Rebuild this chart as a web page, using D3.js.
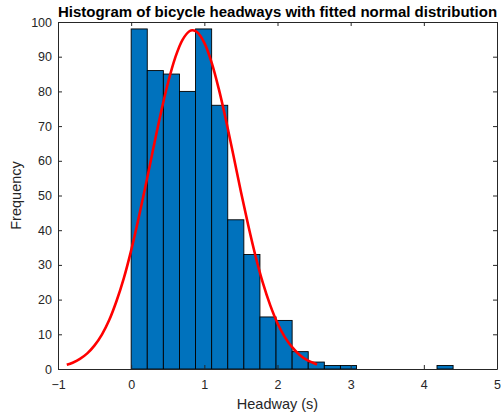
<!DOCTYPE html>
<html>
<head>
<meta charset="utf-8">
<script src="https://cdn.jsdelivr.net/npm/d3@7"></script>
<style>
  html, body { margin: 0; padding: 0; background: #fff; }
  svg { display: block; font-family: "Liberation Sans", Arial, Helvetica, sans-serif; }
</style>
</head>
<body>
<svg id="chart" width="501" height="419"></svg>
<script>
// ---- data ----
const titleText = "Histogram of bicycle headways with fitted normal distribution";
const xLabelText = "Headway (s)";
const yLabelText = "Frequency";

const binLeft  = [0, 0.22, 0.44, 0.66, 0.88, 1.10, 1.32, 1.54, 1.76, 1.98, 2.20, 2.42, 2.64, 2.86, 3.08, 3.30, 3.52, 3.74, 3.96, 4.18];
const binRight = [0.22, 0.44, 0.66, 0.88, 1.10, 1.32, 1.54, 1.76, 1.98, 2.20, 2.42, 2.64, 2.86, 3.08, 3.30, 3.52, 3.74, 3.96, 4.18, 4.40];
const binCount = [98, 86, 85, 80, 98, 76, 43, 33, 15, 14, 5, 2, 1, 1, 0, 0, 0, 0, 0, 1];

const curveX = [-0.88, -0.8, -0.7, -0.6, -0.5, -0.4, -0.3, -0.2, -0.1, 0.0, 0.1, 0.2, 0.3, 0.4, 0.5, 0.6, 0.7, 0.8, 0.84, 0.9, 1.0, 1.1, 1.2, 1.3, 1.4, 1.5, 1.6, 1.7, 1.8, 1.9, 2.0, 2.1, 2.2, 2.3, 2.4, 2.54];
const curveY = [1.2, 1.8, 2.9, 4.5, 6.8, 9.9, 14.1, 19.6, 26.2, 34.2, 43.3, 53.1, 63.3, 73.2, 82.2, 89.6, 94.8, 97.4, 97.6, 97.1, 94.0, 88.3, 80.5, 71.3, 61.3, 51.1, 41.4, 32.5, 24.8, 18.4, 13.2, 9.2, 6.3, 4.1, 2.6, 1.3];

const xTicks = [-1, 0, 1, 2, 3, 4, 5];
const yTicks = [0, 10, 20, 30, 40, 50, 60, 70, 80, 90, 100];
const xDomain = [-1, 5];
const yDomain = [0, 100];

// ---- layout ----
const plotL = 58, plotR = 497, plotT = 22, plotB = 369;
const axisColor = "#262626";

const svg = d3.select("#chart");
const x = d3.scaleLinear().domain(xDomain).range([plotL, plotR]);
const y = d3.scaleLinear().domain(yDomain).range([plotB, plotT]);

// bars
const bars = binLeft.map((l, i) => ({ l, r: binRight[i], c: binCount[i] })).filter(d => d.c > 0);
svg.append("g").selectAll("rect").data(bars).join("rect")
  .attr("x", d => x(d.l))
  .attr("y", d => y(d.c))
  .attr("width", d => x(d.r) - x(d.l))
  .attr("height", d => y(0) - y(d.c))
  .attr("fill", "#0072BD")
  .attr("stroke", "#000")
  .attr("stroke-width", 0.9);

// fitted curve
const pts = curveX.map((v, i) => [v, curveY[i]]);
svg.append("path")
  .datum(pts)
  .attr("fill", "none")
  .attr("stroke", "#ff0000")
  .attr("stroke-width", 2.6)
  .attr("stroke-linejoin", "round")
  .attr("stroke-linecap", "butt")
  .attr("d", d3.line().x(d => x(d[0])).y(d => y(d[1])).curve(d3.curveCatmullRom));

// axes
function styleAxis(g) {
  g.selectAll("path.domain").attr("stroke", axisColor).attr("stroke-width", 1);
  g.selectAll(".tick line").attr("stroke", axisColor).attr("stroke-width", 1);
  g.selectAll(".tick text").attr("fill", axisColor).style("font-size", "12.5px")
    .style("font-family", "'Liberation Sans', Arial, Helvetica, sans-serif");
}
svg.append("g").attr("transform", `translate(0,${plotB})`)
  .call(d3.axisBottom(x).tickValues(xTicks).tickFormat(d3.format("d")).tickSizeInner(-4).tickSizeOuter(0).tickPadding(11))
  .call(styleAxis);
svg.append("g").attr("transform", `translate(0,${plotT})`)
  .call(d3.axisTop(x).tickValues(xTicks).tickFormat("").tickSizeInner(-4).tickSizeOuter(0))
  .call(styleAxis);
svg.append("g").attr("transform", `translate(${plotL},0)`)
  .call(d3.axisLeft(y).tickValues(yTicks).tickFormat(d3.format("d")).tickSizeInner(-4).tickSizeOuter(0).tickPadding(6))
  .call(styleAxis);
svg.append("g").attr("transform", `translate(${plotR},0)`)
  .call(d3.axisRight(y).tickValues(yTicks).tickFormat("").tickSizeInner(-4).tickSizeOuter(0))
  .call(styleAxis);

// title & labels
svg.append("text")
  .attr("x", (plotL + plotR) / 2).attr("y", 17)
  .attr("text-anchor", "middle")
  .attr("font-weight", "bold")
  .attr("font-size", 15)
  .attr("fill", "#000")
  .text(titleText);
svg.append("text")
  .attr("x", (plotL + plotR) / 2).attr("y", 409)
  .attr("text-anchor", "middle")
  .attr("font-size", 14.5)
  .attr("fill", axisColor)
  .text(xLabelText);
svg.append("text")
  .attr("transform", `translate(21,${(plotT + plotB) / 2}) rotate(-90)`)
  .attr("text-anchor", "middle")
  .attr("font-size", 14.5)
  .attr("fill", axisColor)
  .text(yLabelText);
</script>
</body>
</html>
